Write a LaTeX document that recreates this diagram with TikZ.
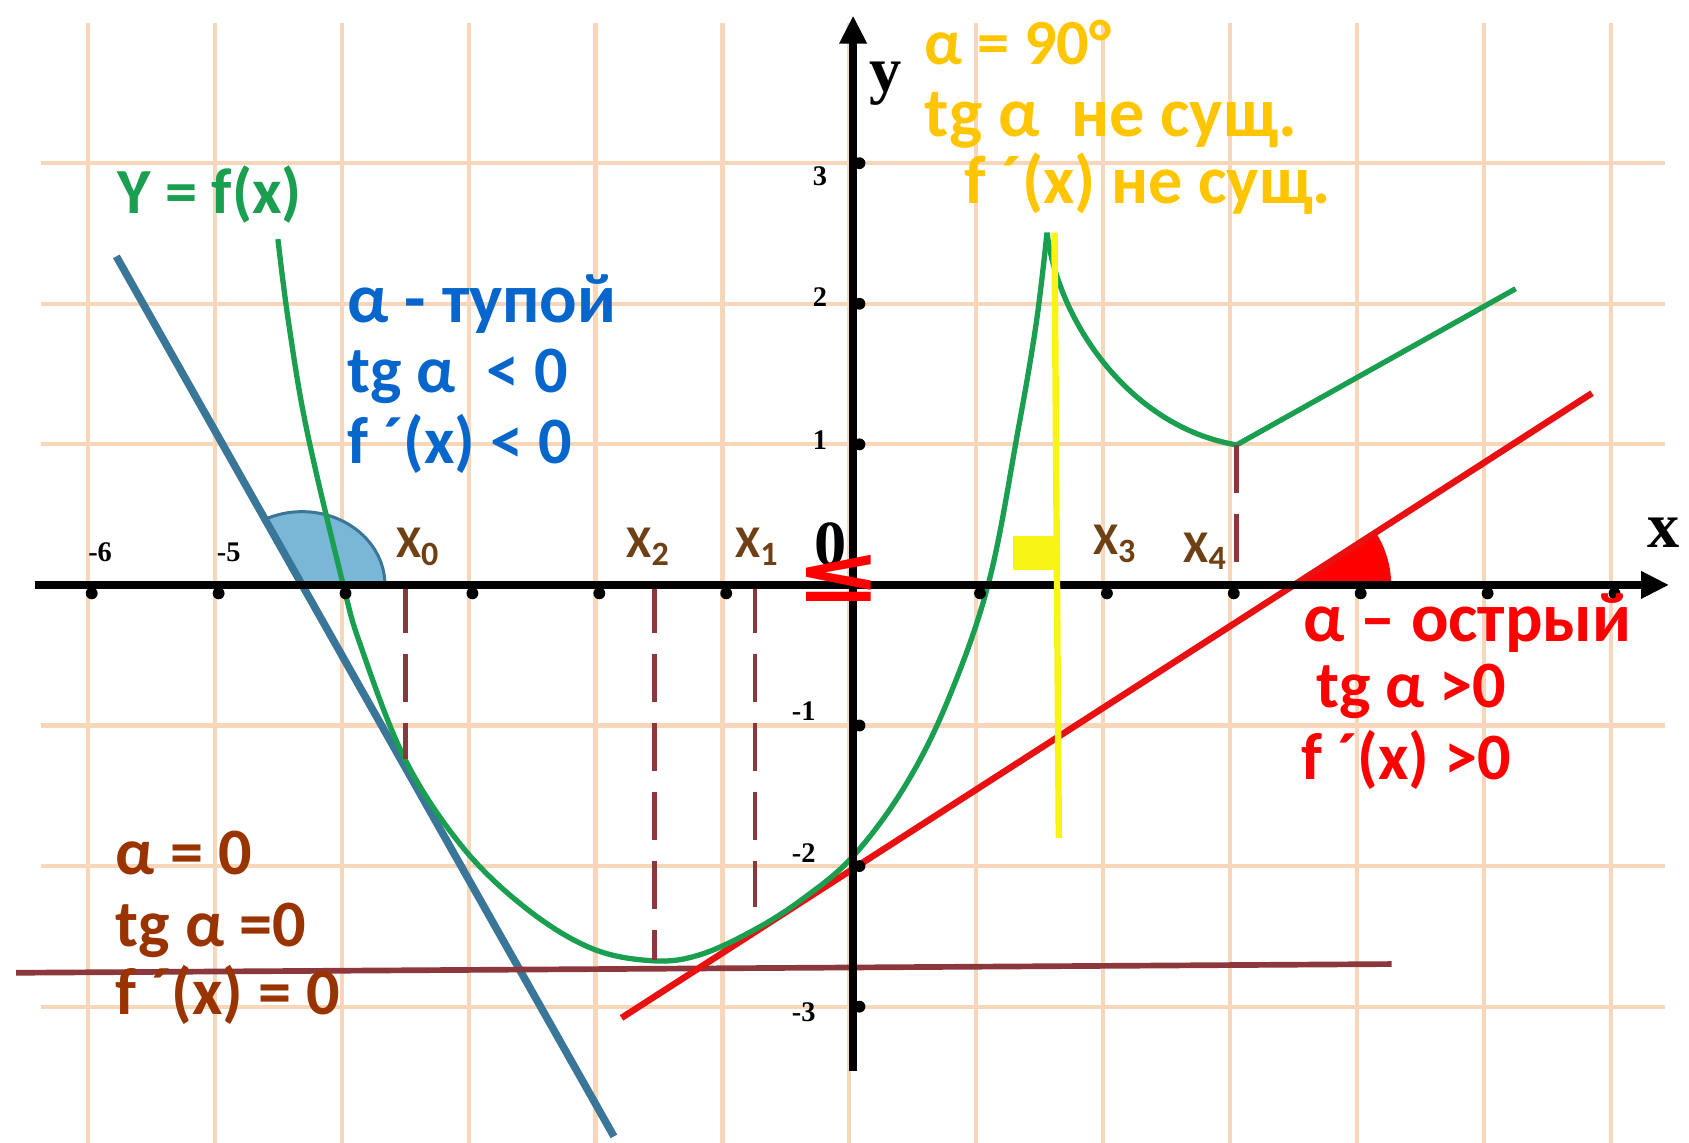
\documentclass[tikz,border=0pt]{standalone}
\usepackage{fontspec}
\setmainfont{Carlito}
\newfontfamily\axisfont{Liberation Serif}
\newfontfamily\symfont{DejaVu Sans}
\usepackage{xcolor}
\usetikzlibrary{arrows.meta}

\definecolor{gridc}{RGB}{248,214,186}
\definecolor{greenc}{RGB}{26,158,80}
\definecolor{bluetx}{RGB}{6,102,204}
\definecolor{bluel}{RGB}{58,118,152}
\definecolor{sectfill}{RGB}{122,182,214}
\definecolor{redc}{RGB}{255,0,0}
\definecolor{redl}{RGB}{232,16,16}
\definecolor{yellowtx}{RGB}{255,198,0}
\definecolor{yellowl}{RGB}{248,245,20}
\definecolor{browntx}{RGB}{153,51,0}
\definecolor{brownl}{RGB}{140,55,60}
\definecolor{ptc}{RGB}{110,64,20}

\newcommand{\ptx}[1]{X\raisebox{-0.35ex}{\fontsize{9}{10}\selectfont #1}}

\begin{document}
\begin{tikzpicture}[x=1.178cm, y=1.305cm,
    gridline/.style={gridc, line width=1.1pt},
    graphline/.style={greenc, line width=1.4pt, line join=round},
    dropline/.style={brownl, line width=1.3pt, dash pattern=on 0.45cm off 0.19cm},
    axisline/.style={black, line width=2pt, -{Triangle[length=2.6mm, width=2.4mm]}},
    ticklab/.style={font=\axisfont\fontsize{7.5}{9}\selectfont\bfseries, inner sep=0pt},
    axislab/.style={font=\axisfont\fontsize{17}{20}\selectfont\bfseries, inner sep=0pt, anchor=base west},
    note/.style={font=\fontsize{17.5}{20}\selectfont\bfseries, inner sep=0pt, anchor=base west},
    bignote/.style={note, font=\fontsize{18.5}{20}\selectfont\bfseries},
    ptlab/.style={font=\fontsize{12}{14}\selectfont\bfseries, text=ptc, inner sep=0pt, anchor=base west}]

    \useasboundingbox[fill=white] (-6.723,-3.969) rectangle (6.587,4.161);

    % Grid
    \foreach \x in {-6,...,6}
        \draw[gridline] (\x-0.03,-3.969) -- (\x-0.03,4.0);
    \foreach \y in {-3,-2,-1,1,2,3}
        \draw[gridline] (-6.4,\y) -- (6.4,\y);

    % Key points
    \coordinate (O) at (0,0);
    \coordinate (B0) at (-4.343,0);
    \coordinate (R0) at (3.476,0);
    \coordinate (T0) at (-3.531,-1.241);
    \coordinate (T2) at (-1.562,-2.667);
    \coordinate (T1) at (-0.773,-2.29);
    \coordinate (T3) at (1.528,2.506);
    \coordinate (T4) at (3.022,0.996);

    % Angles
    \fill[sectfill] (B0) -- ++(0.77cm,0) arc[start angle=0, end angle=116.6, x radius=0.77cm, y radius=0.68cm] -- cycle;
    \draw[bluel, line width=0.8pt] (B0) ++(0.77cm,0) arc[start angle=0, end angle=116.6, x radius=0.77cm, y radius=0.68cm];
    \fill[redc] (R0) -- ++(0.9cm,0) arc[start angle=0, end angle=32.8, radius=0.9cm] -- cycle;

    % Tangents
    \draw[bluel, line width=2pt] (-5.806,2.337) -- (-1.885,-3.923);
    \draw[brownl, line width=1.5pt] (-6.596,-2.759) -- (4.244,-2.697);
    \draw[redl, line width=1.7pt] (-1.825,-3.080) -- (5.823,1.364);

    % Graph of f
    \draw[graphline] plot[smooth, tension=0.6] coordinates {
        (-4.533,2.460) (-4.448,1.862) (-4.304,1.096) (-4.024,0.023)
        (-3.879,-0.437) (T0) (-3.073,-1.87) (-2.564,-2.31)
        (-2.054,-2.588) (-1.570,-2.674) (-1.205,-2.630) (-0.781,-2.455)
        (-0.399,-2.235) (0,-1.93) (0.407,-1.433) (0.747,-0.820)
        (1.070,0.023) (1.299,1.096) (1.443,1.862) (T3)};
    \draw[graphline] (T3) .. controls (1.62,1.85) and (2.2,1.12) .. (T4) -- (5.221,2.107);

    % Drop lines
    \draw[dropline] (T0 |- O) -- (T0);
    \draw[dropline] (T2 |- O) -- (T2);
    \draw[dropline] (T1 |- O) -- (T1);
    \draw[dropline] (T4) -- (3.022,0.1);

    % Axes
    \draw[axisline] (-6.45,0) -- (6.43,0);
    \draw[axisline] (0,-3.46) -- (0,4.05);
    \foreach \x in {-6,...,-1,1,2,...,6}
        \fill (\x,-0.06) circle (0.055cm);
    \foreach \y in {-3,-2,-1,1,2,3}
        \fill (0.05,\y) circle (0.055cm);

    % Vertical tangent
    \draw[yellowl, line width=1.7pt] (1.587,2.506) -- (1.621,-1.801);
    \fill[yellowl] (1.256,0.107) rectangle (1.60,0.345);

    % Axis labels
    \node[ticklab] (lm6) at (-5.934,0.23) {-6};
    \node[ticklab] (lm5) at (-4.92,0.23) {-5};
    \foreach \lab/\px/\py in {3/-0.2/2.91, 2/-0.2/2.05, 1/-0.2/1.03, -1/-0.29/-0.9, -2/-0.29/-1.91, -3/-0.29/-3.04}
        \node[ticklab, anchor=east] (ly\lab) at (\px,\py) {\lab};
    \node[axislab] (ylab) at (0.127,3.51) {y};
    \node[axislab] (xlab) at (6.256,0.268) {x};
    \node[axislab] (zero) at (-0.314,0.138) {0};
    \node[font=\symfont\fontsize{21}{24}\selectfont\bfseries, text=redc, inner sep=0pt] (leq) at (-0.11,0.05) {\scalebox{1.3}[1]{≤}};

    % Points
    \node[ptlab] (x0) at (-3.608,0.192) {\ptx{0}};
    \node[ptlab] (x2) at (-1.791,0.192) {\ptx{2}};
    \node[ptlab] (x1) at (-0.934,0.192) {\ptx{1}};
    \node[ptlab] (x3) at (1.885,0.215) {\ptx{3}};
    \node[ptlab] (x4) at (2.598,0.161) {\ptx{4}};

    % Notes
    \node[note, text=greenc, font=\fontsize{17}{18}\selectfont\bfseries] (fname) at (-5.806,2.644) {Y = f(x)};

    \node[bignote, text=bluetx] (obt1) at (-3.99,1.870) {α - тупой};
    \node[note, text=bluetx] (obt2) at (-3.99,1.372) {tg α\ \ < 0};
    \node[note, text=bluetx] (obt3) at (-3.99,0.866) {f ´(x) < 0};

    \node[note, text=yellowtx, font=\fontsize{17}{20}\selectfont\bfseries] (rt1) at (0.560,3.701) {α = 90°};
    \node[bignote, text=yellowtx] (rt2) at (0.560,3.188) {tg α\ \ не сущ.};
    \node[note, text=yellowtx, font=\fontsize{18}{20}\selectfont\bfseries] (rt3) at (0.874,2.713) {f ´(x) не сущ.};

    \node[bignote, text=redc] (ac1) at (3.540,-0.406) {α – острый};
    \node[note, text=redc] (ac2) at (3.642,-0.874) {tg α >0};
    \node[note, text=redc] (ac3) at (3.531,-1.387) {f ´(x) >0};

    \node[note, text=browntx] (zr1) at (-5.815,-2.061) {α = 0};
    \node[note, text=browntx] (zr2) at (-5.815,-2.575) {tg α =0};
    \node[note, text=browntx] (zr3) at (-5.815,-3.057) {f ´(x) = 0};
\end{tikzpicture}
\end{document}
